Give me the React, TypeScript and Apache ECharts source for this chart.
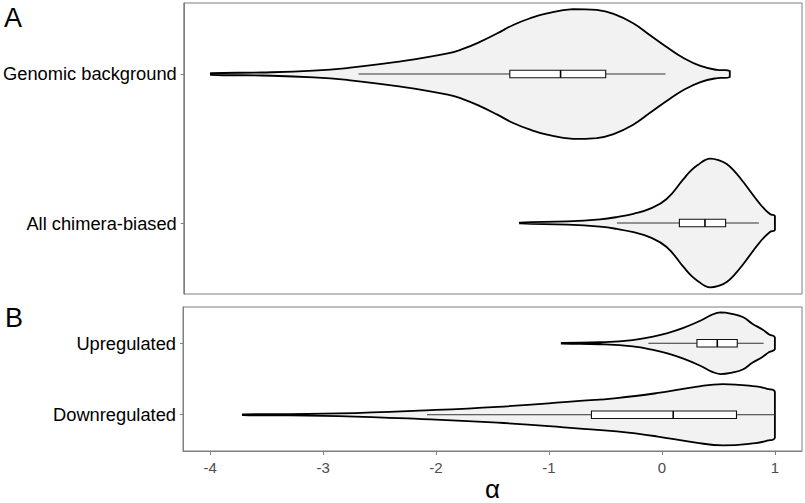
import React, { useEffect, useRef } from "react";
import * as echarts from "echarts";

// ---- Data ----
const CATEGORIES_A = ["Genomic background", "All chimera-biased"];
const CATEGORIES_B = ["Upregulated", "Downregulated"];
const X_TICKS = [-4, -3, -2, -1, 0, 1];

// violin profiles: alpha positions and half-widths (in category units)
const GENOMIC_X = [-4.0, -3.55, -3.09, -2.79, -2.35, -1.9, -1.76, -1.61, -1.46, -1.32, -1.17, -1.02, -0.79, -0.58, -0.43, -0.26, -0.11, 0.04, 0.19, 0.34, 0.49, 0.6];
const GENOMIC_W = [0.005, 0.01, 0.022, 0.04, 0.081, 0.138, 0.17, 0.217, 0.273, 0.329, 0.374, 0.407, 0.436, 0.43, 0.403, 0.342, 0.262, 0.181, 0.107, 0.054, 0.027, 0.02];
const GENOMIC_BOX = [-2.69, -1.35, -0.9, -0.5, 0.03];

const CHIMERA_X = [-1.26, -0.84, -0.55, -0.4, -0.254, -0.106, 0.04, 0.189, 0.26, 0.336, 0.38, 0.425, 0.5, 0.573, 0.65, 0.72, 0.867, 0.956, 1.0];
const CHIMERA_W = [0.003, 0.011, 0.025, 0.04, 0.062, 0.096, 0.161, 0.295, 0.355, 0.4, 0.422, 0.432, 0.422, 0.396, 0.34, 0.275, 0.128, 0.06, 0.047];
const CHIMERA_BOX = [-0.4, 0.153, 0.38, 0.563, 0.858];

const UP_X = [-0.887, -0.55, -0.26, -0.05, 0.04, 0.19, 0.34, 0.44, 0.52, 0.62, 0.72, 0.8, 0.89, 0.95, 1.0];
const UP_W = [0.005, 0.014, 0.045, 0.103, 0.137, 0.215, 0.315, 0.397, 0.432, 0.411, 0.363, 0.274, 0.192, 0.123, 0.082];
const UP_BOX = [-0.12, 0.31, 0.49, 0.667, 0.9];

const DOWN_X = [-3.71, -3.3, -2.86, -2.155, -1.455, -0.755, -0.4, -0.05, 0.3, 0.54, 0.83, 0.93, 1.0];
const DOWN_W = [0.005, 0.01, 0.018, 0.058, 0.111, 0.19, 0.233, 0.301, 0.39, 0.429, 0.397, 0.363, 0.319];
const DOWN_BOX = [-2.08, -0.624, 0.1, 0.66, 1.0];

const FONT = "'Liberation Sans', Arial, Helvetica, sans-serif";

type Violin = { x: number[]; w: number[]; box: number[] };

const VIOLINS_A: Violin[] = [
  { x: GENOMIC_X, w: GENOMIC_W, box: GENOMIC_BOX },
  { x: CHIMERA_X, w: CHIMERA_W, box: CHIMERA_BOX },
];
const VIOLINS_B: Violin[] = [
  { x: UP_X, w: UP_W, box: UP_BOX },
  { x: DOWN_X, w: DOWN_W, box: DOWN_BOX },
];

function makeRender(violins: Violin[]) {
  return (params: any, api: any) => {
    const v = violins[params.dataIndex];
    const pos = api.value(1);
    const top = v.x.map((x, k) => api.coord([x, pos - v.w[k]]));
    const bot = v.x.map((x, k) => api.coord([x, pos + v.w[k]])).reverse();
    const pts = top.concat(bot);
    let minX = Infinity, minY = Infinity, maxX = -Infinity, maxY = -Infinity;
    pts.forEach((p: number[]) => {
      minX = Math.min(minX, p[0]); maxX = Math.max(maxX, p[0]);
      minY = Math.min(minY, p[1]); maxY = Math.max(maxY, p[1]);
    });
    const c = (x: number) => api.coord([x, pos]);
    const [lo, q1, med, q3, hi] = v.box;
    const pLo = c(lo), pQ1 = c(q1), pMed = c(med), pQ3 = c(q3), pHi = c(hi);
    const bh = 3.7;
    return {
      type: "group",
      children: [
        {
          type: "polygon",
          shape: { points: pts, smooth: 0.45, smoothConstraint: [[minX, minY], [maxX, maxY]] },
          style: { fill: "#f2f2f2", stroke: "#000", lineWidth: 1.8 },
        },
        {
          type: "line",
          shape: { x1: pLo[0], y1: pLo[1], x2: pHi[0], y2: pHi[1] },
          style: { stroke: "#333", lineWidth: 1 },
        },
        {
          type: "rect",
          shape: { x: pQ1[0], y: pQ1[1] - bh, width: pQ3[0] - pQ1[0], height: 2 * bh },
          style: { fill: "#fff", stroke: "#111", lineWidth: 1.1 },
        },
        {
          type: "line",
          shape: { x1: pMed[0], y1: pMed[1] - bh, x2: pMed[0], y2: pMed[1] + bh },
          style: { stroke: "#000", lineWidth: 1.6 },
        },
      ],
    };
  };
}

export default function App() {
  const ref = useRef<HTMLDivElement>(null);
  useEffect(() => {
    if (!ref.current) return;
    const chart = echarts.init(ref.current, undefined, { renderer: "svg" });
    const border = "#7f7f7f";
    const xBase = {
      type: "value" as const,
      min: -4.24,
      max: 1.24,
      splitLine: { show: false },
    };
    const yLabel = (cats: string[]) => ({
      customValues: [1, 2],
      formatter: (v: number) => cats[Math.round(v) - 1],
      color: "#000",
      fontSize: 18.3,
      margin: 7,
      fontFamily: FONT,
    });
    chart.setOption({
      animation: false,
      backgroundColor: "#fff",
      textStyle: { fontFamily: FONT },
      grid: [
        { left: 183, right: 3, top: 3, height: 291, show: true, borderColor: border, borderWidth: 1, containLabel: false },
        { left: 183, right: 3, top: 307, height: 149, show: true, borderColor: border, borderWidth: 1, containLabel: false },
      ],
      xAxis: [
        { ...xBase, gridIndex: 0, axisLine: { show: false, onZero: false }, axisTick: { show: false }, axisLabel: { show: false } },
        {
          ...xBase,
          gridIndex: 1,
          axisLine: { show: true, onZero: false, lineStyle: { color: border, width: 1 } },
          axisTick: { show: true, customValues: X_TICKS, length: 4, lineStyle: { color: border } },
          axisLabel: {
            show: true,
            customValues: X_TICKS,
            formatter: (v: number) => String(v),
            color: "#4d4d4d",
            fontSize: 15,
            margin: 9,
            fontFamily: FONT,
          },
          name: "α",
          nameLocation: "middle",
          nameGap: 25,
          nameTextStyle: { fontSize: 26, color: "#000", fontFamily: FONT },
        },
      ],
      yAxis: [
        {
          type: "value",
          gridIndex: 0,
          min: 0.5235,
          max: 2.4765,
          inverse: true,
          splitLine: { show: false },
          axisLine: { show: true, onZero: false, lineStyle: { color: border, width: 1 } },
          axisTick: { show: true, customValues: [1, 2], length: 3, lineStyle: { color: border } },
          axisLabel: yLabel(CATEGORIES_A),
        },
        {
          type: "value",
          gridIndex: 1,
          min: 0.493,
          max: 2.507,
          inverse: true,
          splitLine: { show: false },
          axisLine: { show: true, onZero: false, lineStyle: { color: border, width: 1 } },
          axisTick: { show: true, customValues: [1, 2], length: 3, lineStyle: { color: border } },
          axisLabel: yLabel(CATEGORIES_B),
        },
      ],
      graphic: [
        { type: "text", left: 4, top: 4, style: { text: "A", fontSize: 27, fill: "#000", font: `27px ${FONT}` } },
        { type: "text", left: 5, top: 304, style: { text: "B", fontSize: 27, fill: "#000", font: `27px ${FONT}` } },
      ],
      series: [
        {
          type: "custom",
          xAxisIndex: 0,
          yAxisIndex: 0,
          renderItem: makeRender(VIOLINS_A),
          data: VIOLINS_A.map((v, i) => [v.box[2], i + 1]),
          encode: { x: 0, y: 1 },
          clip: false,
        },
        {
          type: "custom",
          xAxisIndex: 1,
          yAxisIndex: 1,
          renderItem: makeRender(VIOLINS_B),
          data: VIOLINS_B.map((v, i) => [v.box[2], i + 1]),
          encode: { x: 0, y: 1 },
          clip: false,
        },
      ],
    });
    return () => chart.dispose();
  }, []);
  return (
    <div
      ref={ref}
      style={{ position: "fixed", left: 0, top: 0, width: 805, height: 503, background: "#fff" }}
    />
  );
}
